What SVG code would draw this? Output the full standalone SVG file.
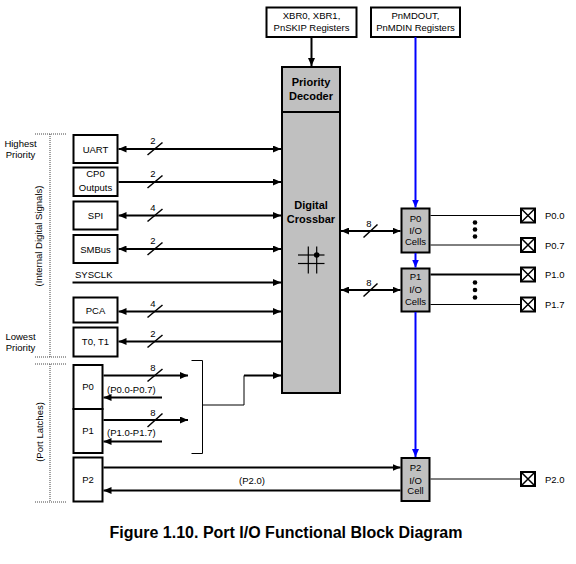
<svg xmlns="http://www.w3.org/2000/svg" width="576" height="564" viewBox="0 0 576 564">
<defs>
<marker id="ah" viewBox="0 0 8 7" markerWidth="8" markerHeight="7" refX="8" refY="3.5" orient="auto-start-reverse" markerUnits="userSpaceOnUse"><path d="M0,0 L8,3.5 L0,7 z" fill="#000"/></marker>
<marker id="ahb" viewBox="0 0 8 7" markerWidth="8" markerHeight="7" refX="8" refY="3.5" orient="auto" markerUnits="userSpaceOnUse"><path d="M0,0 L8,3.5 L0,7 z" fill="#0000ff"/></marker>
<style>
text{font-family:"Liberation Sans",Arial,sans-serif;font-size:9.5px;fill:#000}
.c{text-anchor:middle}
.b{font-weight:bold;font-size:11px}
.box{fill:#fff;stroke:#000;stroke-width:2}
.gray{fill:#c0c0c0;stroke:#000;stroke-width:2}
.w{fill:none;stroke:#000;stroke-width:2}
.t{fill:none;stroke:#000;stroke-width:1}
.a1{marker-end:url(#ah)}
.a2{marker-start:url(#ah);marker-end:url(#ah)}
.blue{fill:none;stroke:#0000ff;stroke-width:2;marker-end:url(#ahb)}
.dot{fill:none;stroke:#444;stroke-width:1;stroke-dasharray:1,1}
.sl{stroke:#000;stroke-width:1.5}
.pin{fill:#fff;stroke:#000;stroke-width:2}
</style>
</defs>

<!-- left side brackets and group labels -->
<g id="labels">
<line class="dot" x1="35" y1="134" x2="66" y2="134"/>
<line class="dot" x1="50" y1="134" x2="50" y2="357"/>
<line class="dot" x1="35" y1="357" x2="66" y2="357"/>
<line class="dot" x1="35" y1="364" x2="66" y2="364"/>
<line class="dot" x1="50" y1="364" x2="50" y2="502"/>
<line class="dot" x1="35" y1="502" x2="66" y2="502"/>
<text class="c" x="20.5" y="146.5">Highest</text>
<text class="c" x="20.5" y="157.5">Priority</text>
<text class="c" x="20.5" y="339.5">Lowest</text>
<text class="c" x="20.5" y="351">Priority</text>
<text class="c" transform="translate(41.5,236) rotate(-90)">(Internal Digital Signals)</text>
<text class="c" transform="translate(42.5,432) rotate(-90)">(Port Latches)</text>
</g>

<g id="xbr"><rect class="box" x="266.5" y="7.5" width="90" height="29.5"/>
<text class="c" x="311.5" y="19">XBR0, XBR1,</text><text class="c" x="311.5" y="31">PnSKIP Registers</text></g>
<g id="pnmdout"><rect class="box" x="371" y="7.5" width="89" height="29.5"/>
<text class="c" x="415.5" y="19">PnMDOUT,</text><text class="c" x="415.5" y="31">PnMDIN Registers</text></g>

<g id="decoder"><rect class="gray" x="282" y="67" width="58" height="45"/>
<text class="c b" x="311" y="86">Priority</text><text class="c b" x="311" y="100">Decoder</text></g>
<g id="crossbar"><rect class="gray" x="282" y="112" width="58" height="281"/>
<text class="c b" x="311" y="209">Digital</text><text class="c b" x="311" y="223">Crossbar</text>
<g stroke="#000" stroke-width="1.2"><line x1="298" y1="255" x2="324.5" y2="255"/><line x1="298" y1="263.5" x2="324.5" y2="263.5"/><line x1="308.3" y1="246.5" x2="308.3" y2="273.5"/><line x1="316.7" y1="246.5" x2="316.7" y2="273.5"/></g>
<circle cx="316.7" cy="255" r="2.8" fill="#000"/></g>

<g id="uart"><rect class="box" x="73.5" y="135" width="44" height="28"/><text class="c" x="95.5" y="152.5">UART</text></g>
<g id="cp0"><rect class="box" x="73.5" y="167.5" width="44" height="28.5"/><text class="c" x="95.5" y="176.5">CP0</text><text class="c" x="95.5" y="190.5">Outputs</text></g>
<g id="spi"><rect class="box" x="73.5" y="201.5" width="44" height="28"/><text class="c" x="95.5" y="219">SPI</text></g>
<g id="smbus"><rect class="box" x="73.5" y="235" width="44" height="28"/><text class="c" x="95.5" y="252.5">SMBus</text></g>
<g id="sysclk"><text x="75" y="277.5">SYSCLK</text></g>
<g id="pca"><rect class="box" x="73.5" y="297.5" width="44" height="25"/><text class="c" x="95.5" y="313.5">PCA</text></g>
<g id="t0t1"><rect class="box" x="73.5" y="327.5" width="44" height="29"/><text class="c" x="95.5" y="345">T0, T1</text></g>

<g id="p0latch"><rect class="box" x="73.5" y="365" width="29" height="44"/><text class="c" x="88" y="389.5">P0</text></g>
<g id="p1latch"><rect class="box" x="73.5" y="409" width="29" height="44"/><text class="c" x="88" y="433.5">P1</text></g>
<g id="p2latch"><rect class="box" x="73.5" y="457.5" width="29" height="44"/><text class="c" x="88" y="482.5">P2</text></g>

<g id="p0cells"><rect class="gray" x="401.5" y="208.5" width="28" height="44"/>
<text class="c" x="415.5" y="221.5">P0</text><text class="c" x="415.5" y="234">I/O</text><text class="c" x="415.5" y="245">Cells</text></g>
<g id="p1cells"><rect class="gray" x="401.5" y="268.5" width="28" height="43"/>
<text class="c" x="415.5" y="280">P1</text><text class="c" x="415.5" y="292.5">I/O</text><text class="c" x="415.5" y="304.5">Cells</text></g>
<g id="p2cell"><rect class="gray" x="401.5" y="458" width="28" height="43"/>
<text class="c" x="415.5" y="471">P2</text><text class="c" x="415.5" y="483.5">I/O</text><text class="c" x="415.5" y="494">Cell</text></g>

<g id="pins">
<rect class="pin" x="521" y="208.5" width="14" height="14"/><path class="sl" d="M521,208.5 L535,222.5 M535,208.5 L521,222.5"/><text x="545" y="219">P0.0</text>
<rect class="pin" x="521" y="238" width="14" height="14"/><path class="sl" d="M521,238 L535,252 M535,238 L521,252"/><text x="545" y="248.5">P0.7</text>
<rect class="pin" x="521" y="267.5" width="14" height="14"/><path class="sl" d="M521,267.5 L535,281.5 M535,267.5 L521,281.5"/><text x="545" y="278">P1.0</text>
<rect class="pin" x="521" y="297.5" width="14" height="14"/><path class="sl" d="M521,297.5 L535,311.5 M535,297.5 L521,311.5"/><text x="545" y="307.5">P1.7</text>
<rect class="pin" x="521" y="472" width="14" height="14"/><path class="sl" d="M521,472 L535,486 M535,472 L521,486"/><text x="545" y="482.5">P2.0</text>
<g fill="#000"><circle cx="475" cy="222.5" r="2.3"/><circle cx="475" cy="229.5" r="2.3"/><circle cx="475" cy="236.5" r="2.3"/>
<circle cx="475" cy="282.5" r="2.3"/><circle cx="475" cy="290" r="2.3"/><circle cx="475" cy="297.5" r="2.3"/></g>
</g>

<g id="connectors">
<!-- register arrows -->
<line class="w a1" x1="311.5" y1="37" x2="311.5" y2="66"/>
<line class="blue" x1="415.5" y1="37" x2="415.5" y2="207.5"/>
<line class="blue" x1="415.5" y1="253" x2="415.5" y2="267.5"/>
<line class="blue" x1="415.5" y1="312" x2="415.5" y2="457"/>
<!-- internal signals -->
<line class="w a2" x1="118.5" y1="149" x2="281" y2="149"/>
<line class="w a1" x1="118.5" y1="182" x2="281" y2="182"/>
<line class="w a2" x1="118.5" y1="215.5" x2="281" y2="215.5"/>
<line class="w a2" x1="118.5" y1="249" x2="281" y2="249"/>
<line class="w a1" x1="72.5" y1="282.5" x2="281" y2="282.5"/>
<line class="w a2" x1="118.5" y1="311.5" x2="281" y2="311.5"/>
<line class="w a1" x1="281" y1="341.5" x2="118.5" y2="341.5"/>
<g class="sl">
<line x1="147.5" y1="155" x2="162.5" y2="142.5"/>
<line x1="147.5" y1="188" x2="162.5" y2="175.5"/>
<line x1="147.5" y1="221.5" x2="162.5" y2="209"/>
<line x1="147.5" y1="255" x2="162.5" y2="242.5"/>
<line x1="147.5" y1="317.5" x2="162.5" y2="305"/>
<line x1="147.5" y1="347.5" x2="162.5" y2="335"/>
</g>
<text class="c" x="153" y="144">2</text>
<text class="c" x="153" y="177">2</text>
<text class="c" x="153" y="210.5">4</text>
<text class="c" x="153" y="244">2</text>
<text class="c" x="153" y="306.5">4</text>
<text class="c" x="153" y="336.5">2</text>
<!-- port latches -->
<line class="w a1" x1="103.5" y1="375.5" x2="188" y2="375.5"/>
<line class="w a1" x1="162" y1="397.5" x2="103.5" y2="397.5"/>
<line class="w a1" x1="103.5" y1="420" x2="188" y2="420"/>
<line class="w a1" x1="162" y1="441.5" x2="103.5" y2="441.5"/>
<line class="sl" x1="147.5" y1="381.5" x2="162.5" y2="369"/>
<line class="sl" x1="147.5" y1="427" x2="162.5" y2="413.5"/>
<text class="c" x="153" y="371">8</text>
<text class="c" x="153" y="415.5">8</text>
<text x="107" y="392.5">(P0.0-P0.7)</text>
<text x="107" y="436">(P1.0-P1.7)</text>
<path class="t" stroke-width="1.5" d="M191.5,360.5 H202.5 V453.5 H191.5 M202.5,405 H244 V375.5 H273"/>
<line class="w a1" x1="244" y1="375.5" x2="281" y2="375.5"/>
<line class="w a1" x1="103.5" y1="467.5" x2="400.5" y2="467.5"/>
<line class="w a1" x1="400.5" y1="490.5" x2="103.5" y2="490.5"/>
<text class="c" x="252" y="484">(P2.0)</text>
<!-- crossbar to cells -->
<line class="w a2" x1="341" y1="231" x2="400.5" y2="231"/>
<line class="w a2" x1="341" y1="290" x2="400.5" y2="290"/>
<line class="sl" x1="363.5" y1="237.5" x2="377.5" y2="224.5"/>
<line class="sl" x1="363.5" y1="296.5" x2="377.5" y2="283.5"/>
<text class="c" x="369" y="226.5">8</text>
<text class="c" x="369" y="286">8</text>
<!-- cells to pins -->
<line class="t" x1="430.5" y1="215.5" x2="520" y2="215.5"/>
<line class="t" x1="430.5" y1="245" x2="520" y2="245"/>
<line class="w" x1="430.5" y1="274.5" x2="520" y2="274.5"/>
<line class="t" x1="430.5" y1="304.5" x2="520" y2="304.5"/>
<line class="t" x1="430.5" y1="479" x2="520" y2="479"/>
</g>

<g id="caption"><text class="c" x="286" y="538" style="font-size:16px;font-weight:bold">Figure 1.10. Port I/O Functional Block Diagram</text></g>
</svg>
